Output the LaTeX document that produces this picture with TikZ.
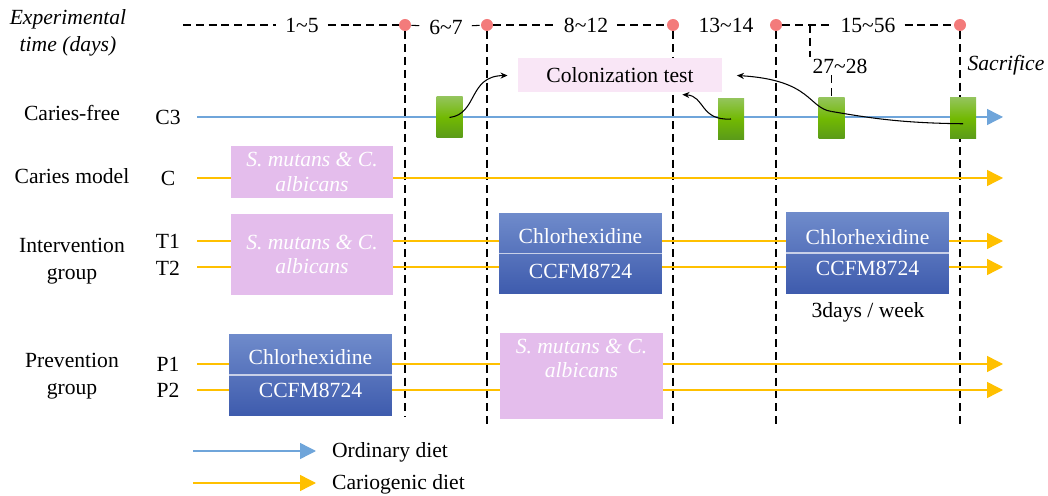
\documentclass[tikz,border=0pt]{standalone}
\usepackage{fontspec}
\setmainfont{Liberation Serif}
\usetikzlibrary{arrows.meta}
\definecolor{ordblue}{HTML}{6FA5DA}
\definecolor{carioyel}{HTML}{FFC000}
\definecolor{strainpink}{HTML}{E4BDEC}
\definecolor{colopink}{HTML}{F9E6F6}
\definecolor{dotred}{HTML}{F37B7B}
\definecolor{chxtop}{HTML}{6F8BCB}
\definecolor{chxbot}{HTML}{3E5BAD}
\definecolor{divline}{HTML}{C8D0E8}
\definecolor{grtop}{HTML}{93C45A}
\definecolor{grmid}{HTML}{72B902}
\definecolor{grbot}{HTML}{5A9A1A}
\tikzset{
  lbl/.style={inner sep=1pt, font=\fontsize{12.3}{15.3}\selectfont},
  daytick/.style={circle, fill=dotred, inner sep=0pt, minimum size=0.24cm},
  timeline/.style={dash pattern=on 4.5pt off 2.8pt, line width=0.6pt},
  daylbl/.style={lbl, inner xsep=5pt},
  ordinary/.style={ordblue, line width=0.8pt, -{Triangle[length=9pt,width=9pt]}},
  cariogenic/.style={carioyel, line width=0.8pt, -{Triangle[length=9pt,width=9pt]}},
  strainbox/.style={fill=strainpink, text=white, minimum width=3.26cm, align=center, font=\fontsize{12.3}{14}\selectfont\itshape},
  chxbox/.style={top color=chxtop, bottom color=chxbot, minimum width=3.26cm, minimum height=1.62cm},
  chxtxt/.style={lbl, text=white},
  divider/.style={divline, line width=0.8pt},
  testbox/.style={top color=grtop, bottom color=grbot, middle color=grmid, minimum width=0.52cm, minimum height=0.82cm},
  sample/.style={-{Stealth[length=4pt,width=3.5pt]}, line width=0.6pt},
}
\begin{document}
\begin{tikzpicture}[x=0.02cm, y=-0.02cm]
\useasboundingbox (0,0) rectangle (1048,496);
% time axis
\node[lbl, font=\fontsize{12.3}{15.3}\selectfont\itshape, align=center] (exptime) at (68,33) {Experimental\\time (days)};
\coordinate (t0) at (183,25);
\node[daytick] (d5) at (405,25) {};
\node[daytick] (d7) at (487,25) {};
\node[daytick] (d12) at (673,25) {};
\node[daytick] (d14) at (776,25) {};
\node[daytick] (d56) at (960,25) {};
\node[daylbl] (p15) at (302,25) {1\textasciitilde5};
\node[daylbl] (p67) at (446,27) {6\textasciitilde7};
\node[daylbl] (p812) at (586,25) {8\textasciitilde12};
\node[daylbl] (p1314) at (726,25) {13\textasciitilde14};
\node[daylbl] (p1556) at (868,25) {15\textasciitilde56};
\coordinate (k27) at (810,25);
\coordinate (k27b) at (810,57);
\node[lbl] (p2728) at (840,66) {27\textasciitilde28};
\node[lbl, font=\fontsize{12.3}{15.3}\selectfont\itshape] (sacr) at (1006,65) {Sacrifice};
\draw[timeline] (t0) -- (p15);
\draw[timeline] (p15) -- (d5);
\draw[timeline] (d5) -- (p67);
\draw[timeline] (p67) -- (d7);
\draw[timeline] (d7) -- (p812);
\draw[timeline] (p812) -- (d12);
\draw[timeline] (d14) -- (p1556);
\draw[timeline] (p1556) -- (d56);
\draw[timeline] (k27) -- (k27b);
\coordinate (v5) at (405,417);
\coordinate (v7) at (487,424);
\coordinate (v12) at (673,424);
\coordinate (v14) at (776,424);
\coordinate (v56) at (960,424);
\draw[timeline] (d5) -- (v5);
\draw[timeline] (d7) -- (v7);
\draw[timeline] (d12) -- (v12);
\draw[timeline] (d14) -- (v14);
\draw[timeline] (d56) -- (v56);
% groups
\node[lbl] (cf) at (72,113) {Caries-free};
\node[lbl] (cm) at (72,176) {Caries model};
\node[lbl, align=center] (ig) at (72,261) {Intervention\\group};
\node[lbl, align=center] (pg) at (72,376) {Prevention\\group};
\node[lbl] (c3) at (168,117) {C3};
\node[lbl] (c) at (168,178) {C};
\node[lbl] (t1) at (168,241) {T1};
\node[lbl] (t2) at (168,268) {T2};
\node[lbl] (p1) at (168,364) {P1};
\node[lbl] (p2) at (168,390) {P2};
% diets
\coordinate (c3s) at (197,117); \coordinate (c3e) at (1003,117);
\coordinate (cs) at (197,178); \coordinate (ce) at (1003,178);
\coordinate (t1s) at (197,241); \coordinate (t1e) at (1003,241);
\coordinate (t2s) at (197,267); \coordinate (t2e) at (1003,267);
\coordinate (p1s) at (197,364); \coordinate (p1e) at (1003,364);
\coordinate (p2s) at (197,390); \coordinate (p2e) at (1003,390);
\draw[ordinary] (c3s) -- (c3e);
\draw[cariogenic] (cs) -- (ce);
\draw[cariogenic] (t1s) -- (t1e);
\draw[cariogenic] (t2s) -- (t2e);
\draw[cariogenic] (p1s) -- (p1e);
\draw[cariogenic] (p2s) -- (p2e);
% treatments
\node[strainbox, minimum height=1.04cm] (sm0) at (312,172) {S. mutans \& C.\\albicans};
\node[strainbox, minimum height=1.62cm] (sm1) at (312,254.5) {S. mutans \& C.\\albicans};
\node[strainbox, minimum height=1.64cm] (sm2) at (581.5,376) {S. mutans \& C.\\albicans\\[6pt]};
\node[chxbox] (chx1) at (580.5,253.5) {};
\node[chxbox] (chx2) at (867.5,253) {};
\node[chxbox, minimum height=1.64cm] (chx0) at (310.5,375) {};
\draw[divider] (chx1.west) -- (chx1.east);
\draw[divider] (chx2.west) -- (chx2.east);
\draw[divider] (chx0.west) -- (chx0.east);
\node[chxtxt] (chx1a) at (580.5,236) {Chlorhexidine};
\node[chxtxt] (chx1b) at (580.5,271) {CCFM8724};
\node[chxtxt] (chx2a) at (867.5,237) {Chlorhexidine};
\node[chxtxt] (chx2b) at (867.5,268) {CCFM8724};
\node[chxtxt] (chx0a) at (310.5,357) {Chlorhexidine};
\node[chxtxt] (chx0b) at (310.5,390) {CCFM8724};
\node[lbl] (freq) at (868,312) {3days / week};
% colonization test
\node[lbl, fill=colopink, minimum width=4.1cm, minimum height=0.68cm] (colo) at (620,75.5) {Colonization test};
\node[testbox] (g1) at (449.5,117.5) {};
\node[testbox] (g2) at (731,119) {};
\node[testbox] (g3) at (831.5,118.5) {};
\node[testbox] (g4) at (963,118.5) {};
\draw[timeline] (g3.north |- p2728.south) -- (g3.north);
\coordinate (g3in) at ([yshift=4pt]g3.center);
\coordinate (g4in) at ([yshift=-3pt]g4.center);
\draw[sample] (g1.center) .. controls (478,114) and (468,76) .. ([xshift=-5.5pt]colo.west);
\draw[sample] (g2.center) .. controls (700,121) and (705,96) .. ([xshift=-23pt,yshift=-1pt]colo.south east);
\draw[sample] (g3in) .. controls (808,108) and (812,80) .. ([xshift=8pt]colo.east);
\draw[line width=0.6pt] (g4in) .. controls (900,123) and (870,118) .. (g3in);
% legend
\coordinate (lg1s) at (193,451); \coordinate (lg1e) at (316,451);
\coordinate (lg2s) at (193,483); \coordinate (lg2e) at (316,483);
\draw[ordinary] (lg1s) -- (lg1e);
\draw[cariogenic] (lg2s) -- (lg2e);
\node[lbl, anchor=west] (lg1) at (330,452) {Ordinary diet};
\node[lbl, anchor=west] (lg2) at (330,484) {Cariogenic diet};
\end{tikzpicture}
\end{document}
